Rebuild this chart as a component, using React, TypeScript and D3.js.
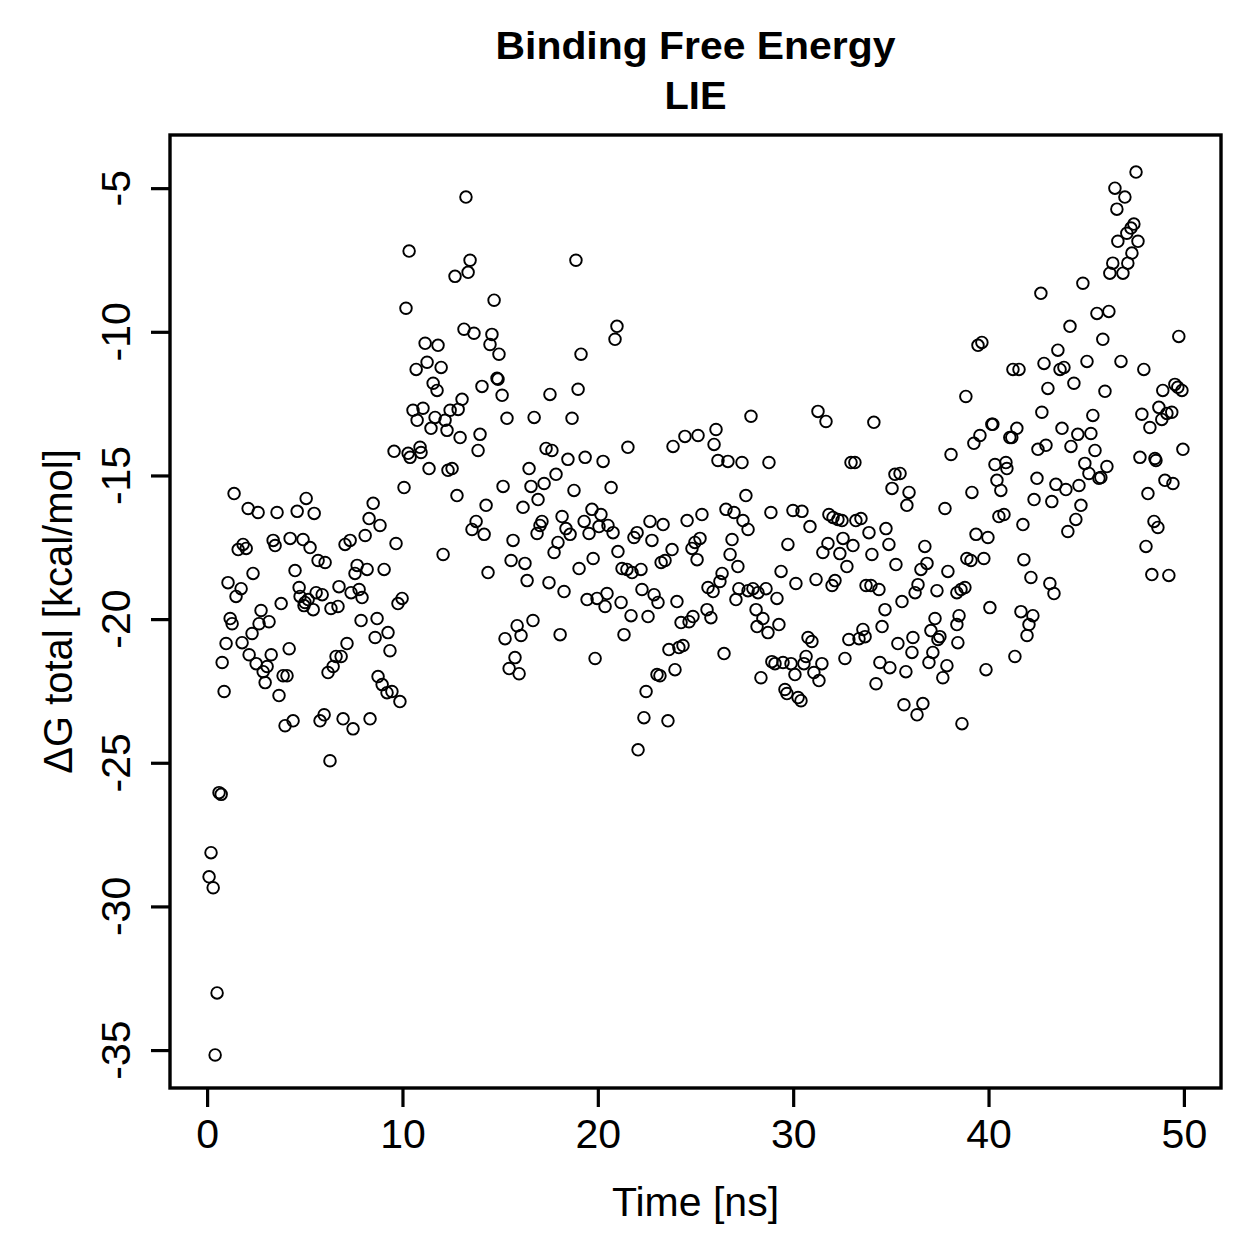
import React, { useRef, useEffect } from 'react';
import * as d3 from 'd3';

const titleLines = ['Binding Free Energy', 'LIE'];
const xLabel = 'Time [ns]';
const yLabel = 'ΔG total [kcal/mol]';
const xTicks = [0, 10, 20, 30, 40, 50];
const yTicks = [-5, -10, -15, -20, -25, -30, -35];

// [time (ns), ΔG total (kcal/mol)]
const samples: [number, number][] = [
  [0.10, -28.97], [0.20, -28.13], [0.31, -29.35], [0.41, -35.17], [0.51, -33.01], [0.61, -26.04], [0.72, -26.1],
  [1.38, -15.63], [2.10, -16.15], [2.61, -16.29], [3.58, -16.29], [5.07, -15.80], [4.61, -16.25], [5.48, -16.32],
  [8.50, -15.97], [8.29, -16.50], [8.85, -16.74], [8.09, -17.09], [10.08, -15.42], [11.36, -14.76], [12.33, -14.82],
  [12.54, -14.76], [12.08, -17.75], [9.67, -17.37], [7.32, -17.26], [7.06, -17.40], [4.25, -17.19], [4.91, -17.23],
  [5.27, -17.51], [3.38, -17.26], [3.48, -17.44], [1.59, -17.58], [1.84, -17.40], [2.00, -17.54], [5.68, -17.96],
  [6.04, -18.03], [4.50, -18.31], [2.35, -18.41], [1.07, -18.73], [1.74, -18.94], [1.48, -19.21], [7.68, -18.13],
  [7.57, -18.41], [8.19, -18.27], [9.06, -18.27], [4.71, -18.90], [4.76, -19.21], [5.01, -19.42], [5.17, -19.32],
  [5.43, -19.67], [4.96, -19.53], [5.58, -19.08], [5.89, -19.15], [6.75, -18.87], [7.37, -19.08], [7.78, -18.97],
  [7.93, -19.25], [6.34, -19.63], [6.70, -19.56], [3.79, -19.46], [2.76, -19.70], [1.18, -19.98], [1.28, -20.16],
  [3.17, -20.09], [2.66, -20.16], [2.30, -20.50], [1.79, -20.82], [0.97, -20.85], [4.20, -21.03], [3.28, -21.24],
  [2.15, -21.24], [0.77, -21.51], [2.51, -21.55], [3.07, -21.65], [2.87, -21.83], [2.97, -22.21], [3.89, -21.97],
  [4.09, -21.97], [0.87, -22.52], [3.68, -22.66], [7.88, -20.05], [8.70, -19.98], [8.60, -20.64], [9.26, -20.47],
  [9.36, -21.10], [7.16, -20.85], [6.86, -21.30], [6.60, -21.30], [6.45, -21.65], [6.19, -21.86], [9.77, -19.46],
  [9.98, -19.28], [8.75, -22.00], [8.96, -22.28], [9.21, -22.56], [9.46, -22.52], [9.87, -22.87], [3.99, -23.71],
  [4.40, -23.54], [5.78, -23.54], [5.99, -23.33], [6.96, -23.47], [7.47, -23.82], [8.34, -23.47], [6.29, -24.93],
  [10.34, -7.19], [10.18, -9.18], [11.16, -10.40], [11.82, -10.47], [11.26, -11.06], [10.70, -11.31], [11.98, -11.24],
  [11.57, -11.79], [11.77, -12.04], [10.54, -12.73], [11.05, -12.66], [10.75, -13.08], [11.67, -12.98], [11.46, -13.36],
  [12.18, -13.08], [12.28, -13.43], [12.44, -12.73], [9.57, -14.16], [10.29, -14.23], [10.90, -14.02], [10.95, -14.20],
  [10.39, -14.37],
  [13.25, -5.31], [13.46, -7.51], [13.36, -7.93], [12.69, -8.07], [18.88, -7.51], [14.69, -8.90], [13.15, -9.91],
  [13.66, -10.05], [14.58, -10.09], [14.48, -10.44], [14.94, -10.78], [20.98, -9.81], [20.88, -10.26], [19.14, -10.78],
  [14.84, -11.62], [14.89, -11.65], [14.07, -11.90], [15.10, -12.21], [13.05, -12.35], [12.85, -12.70], [12.95, -13.68],
  [17.55, -12.18], [18.99, -12.00], [15.35, -13.01], [16.74, -12.98], [18.68, -13.01], [13.97, -13.57], [13.87, -14.13],
  [17.35, -14.06], [17.65, -14.13], [21.54, -14.02], [23.85, -13.99], [24.46, -13.64], [25.13, -13.61], [18.47, -14.44],
  [19.35, -14.37], [20.27, -14.51],
  [26.05, -13.40], [25.95, -13.92], [27.84, -12.94], [31.27, -12.77], [31.68, -13.12], [34.13, -13.15], [38.08, -14.27],
  [26.15, -14.48], [26.66, -14.51], [27.38, -14.55], [28.76, -14.55], [32.96, -14.55], [33.16, -14.55],
  [47.55, -4.44], [46.47, -5.00], [46.98, -5.31], [46.57, -5.73], [47.44, -6.25], [47.29, -6.39], [47.08, -6.57],
  [46.62, -6.85], [47.65, -6.85], [47.34, -7.26], [46.36, -7.61], [47.13, -7.61], [46.21, -7.96], [46.88, -7.96],
  [44.83, -8.31], [42.68, -8.66], [45.55, -9.36], [46.16, -9.29], [44.17, -9.81], [45.85, -10.26], [49.74, -10.16],
  [39.46, -10.47], [39.66, -10.37], [43.55, -10.64], [41.25, -11.31], [41.56, -11.31], [42.84, -11.10], [43.66, -11.31],
  [43.86, -11.24], [45.04, -11.03], [46.78, -11.03], [47.95, -11.31], [43.04, -11.97], [44.37, -11.79], [45.96, -12.07],
  [48.92, -12.04], [49.54, -11.83], [49.69, -11.93], [49.90, -12.04], [38.84, -12.25], [42.73, -12.80], [45.34, -12.91],
  [47.85, -12.87], [48.72, -12.63], [48.87, -13.05], [49.13, -12.84], [49.38, -12.80], [48.26, -13.33], [40.17, -13.22],
  [40.22, -13.22], [41.45, -13.36], [41.09, -13.68], [41.19, -13.68], [39.56, -13.61], [39.25, -13.88], [43.76, -13.36],
  [44.57, -13.57], [45.24, -13.54], [42.94, -13.95], [42.53, -14.09], [44.22, -13.99], [45.45, -14.13], [49.95, -14.09],
  [47.75, -14.37], [48.52, -14.41],
  [40.33, -14.62], [40.89, -14.55], [40.94, -14.76], [40.43, -15.17], [40.63, -15.52], [39.15, -15.59], [42.48, -15.10],
  [42.33, -15.84], [43.24, -15.91], [43.45, -15.31], [43.96, -15.49], [44.63, -15.35], [44.93, -14.58], [45.14, -14.93],
  [45.65, -15.10], [45.75, -15.07], [46.06, -14.69], [44.73, -16.04], [44.47, -16.53], [44.06, -16.95], [48.57, -14.48],
  [48.16, -15.63], [49.03, -15.17], [49.44, -15.28], [48.47, -16.60], [48.67, -16.81], [48.06, -17.47], [48.36, -18.45],
  [49.23, -18.48], [40.53, -16.43], [40.79, -16.36], [41.76, -16.71], [39.36, -17.05], [39.97, -17.16], [38.89, -17.89],
  [39.10, -17.96], [39.76, -17.89], [41.81, -17.93], [42.17, -18.55], [43.14, -18.76], [43.35, -19.11], [38.79, -18.90],
  [38.59, -18.97], [38.38, -19.08], [40.07, -19.60], [41.66, -19.74], [42.27, -19.88], [42.07, -20.19], [41.97, -20.57],
  [38.49, -19.88], [38.38, -20.19], [38.43, -20.82], [41.35, -21.30], [39.87, -21.76], [38.64, -23.64],
  [12.79, -15.70], [15.15, -15.38], [16.48, -14.76], [16.58, -15.38], [17.25, -15.28], [17.86, -14.96], [18.78, -15.52],
  [20.68, -15.42], [14.28, -16.04], [16.17, -16.11], [16.94, -15.84], [13.77, -16.60], [13.56, -16.88], [14.18, -17.05],
  [15.66, -17.26], [17.14, -16.60], [17.04, -16.74], [16.89, -17.02], [18.17, -16.43], [18.37, -16.85], [18.58, -17.05],
  [17.96, -17.33], [17.76, -17.68], [19.30, -16.60], [19.70, -16.18], [20.16, -16.36], [20.06, -16.78], [19.55, -17.02],
  [20.52, -16.74], [20.78, -16.99], [22.01, -16.99], [21.85, -17.16], [22.67, -16.60], [23.34, -16.71], [22.77, -17.26],
  [24.57, -16.57], [25.33, -16.36], [21.03, -17.65], [23.80, -17.58], [23.44, -17.96], [23.24, -18.03], [24.82, -17.54],
  [24.97, -17.33], [25.23, -17.19], [25.08, -17.93], [15.56, -17.96], [16.27, -18.06], [14.38, -18.38], [19.76, -17.89],
  [19.04, -18.24], [21.24, -18.24], [21.49, -18.27], [21.75, -18.38], [22.21, -18.27], [16.38, -18.66], [17.50, -18.73],
  [18.27, -19.04], [19.45, -19.32], [19.96, -19.28], [20.47, -19.11], [20.37, -19.56], [21.19, -19.42], [22.26, -18.97],
  [22.88, -19.15], [23.08, -19.42], [24.05, -19.39], [21.70, -19.88], [22.57, -19.91], [24.26, -20.12], [24.67, -20.09],
  [24.87, -19.91], [16.68, -20.05], [15.87, -20.23], [16.07, -20.57], [15.25, -20.68], [18.07, -20.54], [21.34, -20.54],
  [23.64, -21.06], [24.15, -20.99], [24.36, -20.92], [15.76, -21.34], [15.46, -21.72], [15.97, -21.90], [19.86, -21.37],
  [23.95, -21.76], [23.03, -21.93], [23.18, -21.97], [22.47, -22.52], [22.36, -23.43], [23.59, -23.54], [22.06, -24.55],
  [35.21, -14.96], [35.47, -14.93], [35.06, -15.45], [35.93, -15.59], [35.82, -16.04], [37.77, -16.15], [27.58, -15.70],
  [26.56, -16.18], [26.97, -16.29], [27.43, -16.57], [27.69, -16.88], [28.86, -16.29], [29.99, -16.22], [30.45, -16.25],
  [30.86, -16.78], [31.83, -16.36], [32.04, -16.46], [32.29, -16.53], [32.50, -16.57], [33.21, -16.57], [33.47, -16.50],
  [33.88, -16.99], [34.75, -16.85], [26.87, -17.23], [29.73, -17.40], [31.78, -17.37], [31.52, -17.68], [32.39, -17.72],
  [32.55, -17.19], [33.06, -17.44], [34.03, -17.75], [34.90, -17.40], [36.74, -17.47], [32.75, -18.17], [26.77, -17.75],
  [27.17, -18.17], [35.26, -18.10], [36.85, -18.06], [36.54, -18.27], [37.92, -18.34], [26.36, -18.41], [26.25, -18.69],
  [25.64, -18.90], [25.90, -19.04], [29.38, -18.34], [30.14, -18.76], [31.17, -18.62], [32.14, -18.66], [31.99, -18.83],
  [33.73, -18.83], [33.98, -18.83], [34.39, -18.97], [27.22, -18.94], [27.94, -18.94], [27.69, -19.01], [28.20, -19.08],
  [28.61, -18.94], [27.07, -19.32], [29.17, -19.28], [36.39, -18.80], [36.24, -19.08], [37.36, -19.01], [35.57, -19.39],
  [34.70, -19.67], [25.59, -19.67], [25.79, -19.95], [28.10, -19.67], [28.45, -19.98], [28.15, -20.26], [28.71, -20.47],
  [29.27, -20.19], [34.55, -20.26], [37.26, -19.98], [37.05, -20.40], [37.51, -20.61], [37.41, -20.71], [30.76, -20.64],
  [30.96, -20.78], [32.85, -20.71], [33.37, -20.68], [33.57, -20.36], [33.68, -20.61], [35.36, -20.85], [36.13, -20.64],
  [36.08, -21.16], [37.15, -21.16], [26.46, -21.20], [32.65, -21.37], [34.44, -21.51], [34.95, -21.69], [35.77, -21.83],
  [36.95, -21.51], [37.87, -21.62], [37.66, -22.04], [28.91, -21.48], [29.07, -21.55], [29.48, -21.51], [29.89, -21.55],
  [30.66, -21.30], [30.55, -21.55], [31.47, -21.55], [31.06, -21.86], [31.32, -22.14], [30.09, -21.93], [28.35, -22.04],
  [34.24, -22.25], [29.58, -22.45], [29.68, -22.59], [30.25, -22.73], [30.40, -22.84], [35.67, -22.98], [36.64, -22.94],
  [36.34, -23.33],
];

const WIDTH = 1259;
const HEIGHT = 1259;
const FONT = '"Liberation Sans", Arial, Helvetica, sans-serif';

/**
 * Scatter of the LIE binding free energy over the trajectory, base-graphics style
 */
const App: React.FC = () => {
  const svgRef = useRef<SVGSVGElement>(null);

  useEffect(() => {
    document.body.style.margin = '0';
    const svg = d3.select(svgRef.current);
    svg.selectAll('*').remove();

    const plot = { left: 170, right: 1221, top: 135, bottom: 1088 };

    const xScale = d3.scaleLinear().domain([-1.9, 51.9]).range([plot.left, plot.right]);
    const yScale = d3.scaleLinear().domain([-36.32, -3.15]).range([plot.bottom, plot.top]);

    // Points
    svg.append('g')
      .selectAll('circle')
      .data(samples)
      .enter()
      .append('circle')
      .attr('cx', d => xScale(d[0]))
      .attr('cy', d => yScale(d[1]))
      .attr('r', 5.8)
      .attr('fill', 'none')
      .attr('stroke', '#000')
      .attr('stroke-width', 1.9);

    // Frame
    svg.append('rect')
      .attr('x', plot.left)
      .attr('y', plot.top)
      .attr('width', plot.right - plot.left)
      .attr('height', plot.bottom - plot.top)
      .attr('fill', 'none')
      .attr('stroke', '#000')
      .attr('stroke-width', 3.4);

    // Bottom axis
    const xAxis = svg.append('g')
      .attr('transform', `translate(0,${plot.bottom})`)
      .call(d3.axisBottom(xScale).tickValues(xTicks).tickSize(19).tickPadding(12).tickFormat(d3.format('d')));
    xAxis.select('.domain').remove();
    xAxis.selectAll('line').attr('stroke-width', 3.2);
    xAxis.selectAll('text')
      .attr('font-family', FONT)
      .attr('font-size', 41)
      .attr('fill', '#000');

    // Left axis: ticks from d3, labels rotated parallel to the axis
    const yAxis = svg.append('g')
      .attr('transform', `translate(${plot.left},0)`)
      .call(d3.axisLeft(yScale).tickValues(yTicks).tickSize(19).tickFormat(() => ''));
    yAxis.select('.domain').remove();
    yAxis.selectAll('line').attr('stroke-width', 3.2);

    svg.append('g')
      .selectAll('text')
      .data(yTicks)
      .enter()
      .append('text')
      .attr('transform', d => `translate(130,${yScale(d)}) rotate(-90)`)
      .attr('text-anchor', 'middle')
      .attr('font-family', FONT)
      .attr('font-size', 41)
      .text(d => String(d));

    // Axis titles
    const midX = (plot.left + plot.right) / 2;
    const midY = (plot.top + plot.bottom) / 2;

    svg.append('text')
      .attr('x', midX)
      .attr('y', 1216)
      .attr('text-anchor', 'middle')
      .attr('font-family', FONT)
      .attr('font-size', 41)
      .text(xLabel);

    svg.append('text')
      .attr('transform', `translate(72,${midY}) rotate(-90)`)
      .attr('text-anchor', 'middle')
      .attr('font-family', FONT)
      .attr('font-size', 40)
      .text(yLabel);

    // Main title, two lines
    const titleLengths = [400, 62];
    titleLines.forEach((line, i) => {
      svg.append('text')
        .attr('x', midX)
        .attr('y', 59 + i * 50)
        .attr('text-anchor', 'middle')
        .attr('font-family', FONT)
        .attr('font-size', 39)
        .attr('font-weight', 'bold')
        .attr('textLength', titleLengths[i])
        .attr('lengthAdjust', 'spacingAndGlyphs')
        .text(line);
    });
  }, []);

  return (
    <svg
      ref={svgRef}
      width={WIDTH}
      height={HEIGHT}
      style={{ display: 'block', background: '#fff' }}
    />
  );
};

export default App;
